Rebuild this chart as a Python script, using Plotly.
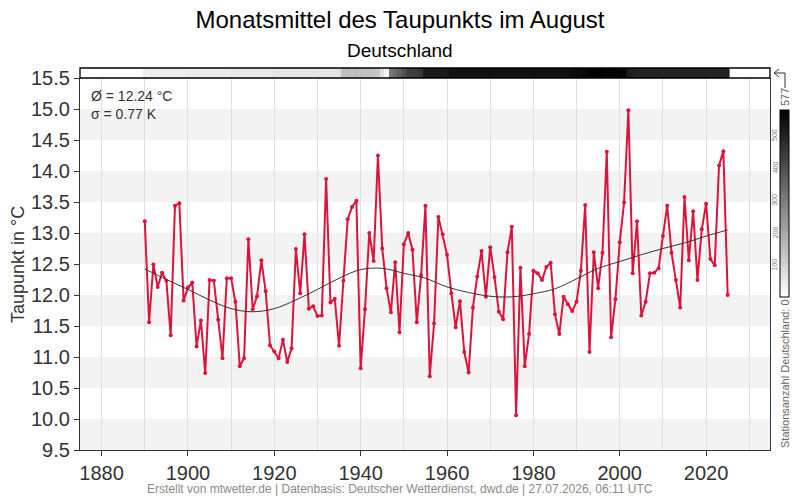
import plotly.graph_objects as go

years = list(range(1890, 2026))
dewpoint = [
    13.19, 11.56, 12.49, 12.13, 12.36, 12.23, 11.35, 13.44, 13.48, 11.91,
    12.12, 12.20, 11.17, 11.59, 10.74, 12.24, 12.23, 11.60, 10.98, 12.27,
    12.27, 11.89, 10.85, 10.98, 12.90, 11.77, 11.98, 12.56, 12.06, 11.19,
    11.09, 10.98, 11.28, 10.92, 11.14, 12.74, 12.03, 12.98, 11.78, 11.82,
    11.66, 11.67, 13.87, 11.88, 11.94, 11.18, 12.23, 13.22, 13.42, 13.52,
    10.82, 11.77, 13.00, 12.55, 14.25, 12.75, 12.11, 11.72, 12.53, 11.40,
    12.82, 13.00, 12.73, 11.56, 12.32, 13.44, 10.69, 11.54, 13.26, 12.98,
    12.65, 12.03, 11.48, 11.90, 11.08, 10.75, 11.80, 12.30, 12.71, 11.97,
    12.77, 12.29, 11.73, 11.61, 12.69, 13.10, 10.06, 12.44, 10.85, 11.37,
    12.39, 12.35, 12.24, 12.45, 12.52, 11.69, 11.37, 11.97, 11.85, 11.74,
    11.89, 12.39, 13.45, 11.08, 12.69, 12.11, 12.68, 14.31, 11.32, 11.93,
    12.85, 13.49, 14.98, 12.35, 13.19, 11.67, 11.89, 12.35, 12.36, 12.43,
    12.95, 13.44, 12.68, 12.24, 11.80, 13.58, 12.56, 13.35, 12.24, 13.06,
    13.47, 12.58, 12.48, 14.09, 14.32, 12.00,
]

trend_years = list(range(1890, 2026, 5))
trend_values = [
    12.42, 12.25, 12.09, 11.92, 11.78, 11.73, 11.78, 11.92, 12.09, 12.27,
    12.41, 12.43, 12.35, 12.27, 12.13, 12.04, 11.98, 11.97, 12.02, 12.10,
    12.26, 12.43, 12.54, 12.65, 12.75, 12.84, 12.95, 13.05,
]

station_counts = (
    [40] * 10 + [45] * 10 + [50] * 10 + [58] * 16
    + [140, 150, 145, 150, 140, 135, 140, 130, 125]
    + [70, 25]
    + [300, 330, 360, 390, 430, 435, 440, 450]
    + [515] * 6
    + [540] * 28
    + [555] * 4 + [570, 572, 577, 574, 570, 568, 566, 565, 565]
    + [520, 505] + [495] * 22
)

station_max = 577
colorbar_ticks = [100, 200, 300, 400, 500]
y_ticks = [9.5 + 0.5 * i for i in range(13)]
x_ticks = [1880, 1900, 1920, 1940, 1960, 1980, 2000, 2020]
mean_text = "Ø = 12.24 °C<br>σ = 0.77 K"
title_text = "Monatsmittel des Taupunkts im August"
subtitle_text = "Deutschland"
footer_text = "Erstellt von mtwetter.de | Datenbasis: Deutscher Wetterdienst, dwd.de | 27.07.2026, 06:11 UTC"

NARROW = "Liberation Sans Narrow, Arial Narrow, Liberation Sans, sans-serif"
SANS = "Liberation Sans, Arial, sans-serif"

W, H = 800, 500
L, R, T, B = 80, 770, 68, 450
band_bottom = 78
cb_top, cb_bottom = 110, 297

def px_x(px):
    return (px - L) / (R - L)

def px_y(py):
    return (B - py) / (B - T)

main_top = px_y(band_bottom)

fig = go.Figure()

fig.add_trace(go.Heatmap(
    x=years, y=[0], z=[station_counts],
    xaxis="x2", yaxis="y2",
    colorscale=[[0, "white"], [1, "black"]],
    zmin=0, zmax=station_max,
    hoverinfo="skip",
    colorbar=dict(
        x=px_x(780), xanchor="left", xref="paper",
        y=px_y(cb_bottom), yanchor="bottom", yref="paper",
        len=(cb_bottom - cb_top) / (B - T), lenmode="fraction",
        thickness=9, thicknessmode="pixels",
        outlinecolor="black", outlinewidth=1,
        showticklabels=False, ticks="",
        xpad=0, ypad=0,
    ),
))

fig.add_trace(go.Scatter(
    x=years, y=dewpoint, mode="lines+markers",
    line=dict(color="#dc143c", width=2),
    marker=dict(color="#dc143c", size=4),
    showlegend=False,
))

fig.add_trace(go.Scatter(
    x=trend_years, y=trend_values, mode="lines",
    line=dict(color="#333333", width=1, shape="spline", smoothing=1.0),
    showlegend=False,
))

shapes = []
for lo in [9.5, 10.5, 11.5, 12.5, 13.5, 14.5]:
    shapes.append(dict(type="rect", xref="x domain", yref="y",
                       x0=0, x1=1, y0=lo, y1=lo + 0.5,
                       fillcolor="#f3f3f3", line=dict(width=0), layer="below"))
shapes.append(dict(type="rect", xref="paper", yref="paper",
                   x0=0, x1=1, y0=main_top, y1=1,
                   line=dict(color="black", width=1.3), fillcolor="rgba(0,0,0,0)"))
pts = [(785, 88), (785, 73), (775, 73)]
path = "M " + " L ".join(f"{px_x(a):.5f},{px_y(b):.5f}" for a, b in pts)
shapes.append(dict(type="path", xref="paper", yref="paper", path=path,
                   line=dict(color="#333", width=1)))
head = [(779, 69), (774, 73), (779, 77)]
path2 = "M " + " L ".join(f"{px_x(a):.5f},{px_y(b):.5f}" for a, b in head)
shapes.append(dict(type="path", xref="paper", yref="paper", path=path2,
                   line=dict(color="#333", width=1)))

annotations = [
    dict(text=subtitle_text, xref="paper", yref="paper",
         x=px_x(400), y=px_y(50), xanchor="center", yanchor="middle",
         showarrow=False, font=dict(size=19, color="black", family=SANS)),
    dict(text=mean_text, xref="paper", yref="paper",
         x=px_x(89), y=px_y(86), xanchor="left", yanchor="top", align="left",
         showarrow=False, font=dict(size=14, color="#333", family=SANS)),
    dict(text=footer_text, xref="paper", yref="paper",
         x=px_x(400), y=px_y(489), xanchor="center", yanchor="middle",
         showarrow=False, font=dict(size=12, color="#8a8a8a", family=NARROW)),
    dict(text=str(station_max), xref="paper", yref="paper", textangle=-90,
         x=px_x(785), y=px_y(97), xanchor="center", yanchor="middle",
         showarrow=False, font=dict(size=11, color="#666", family=SANS)),
    dict(text="Stationsanzahl Deutschland: 0", xref="paper", yref="paper", textangle=-90,
         x=px_x(785), y=px_y(374), xanchor="center", yanchor="middle",
         showarrow=False, font=dict(size=11, color="#666", family=SANS)),
    dict(text="Taupunkt in °C", xref="paper", yref="paper", textangle=-90,
         x=px_x(18), y=px_y(265), xanchor="center", yanchor="middle",
         showarrow=False, font=dict(size=18, color="#333", family=SANS)),
]
for v in colorbar_ticks:
    py = cb_bottom - v / station_max * (cb_bottom - cb_top)
    annotations.append(dict(
        text=str(v), xref="paper", yref="paper", textangle=-90,
        x=px_x(775), y=px_y(py), xanchor="center", yanchor="middle",
        showarrow=False, font=dict(size=7, color="#777", family=SANS)))

fig.update_layout(
    width=W, height=H,
    margin=dict(l=L, r=W - R, t=T, b=H - B, pad=0, autoexpand=False),
    paper_bgcolor="white", plot_bgcolor="white",
    title=dict(text=title_text, x=0.5, xref="container", xanchor="center",
               y=1 - 20 / H, yref="container", yanchor="middle",
               font=dict(size=24, color="black", family=SANS)),
    showlegend=False,
    xaxis=dict(
        domain=[0, 1], anchor="y", range=[1875, 2034.8],
        tickvals=x_ticks, ticks="outside", ticklen=5, tickcolor="#333",
        showgrid=True, gridcolor="#e0e0e0", gridwidth=1,
        minor=dict(dtick=10, tick0=1880, showgrid=True, gridcolor="#e0e0e0", ticks=""),
        showline=True, linecolor="#333", linewidth=1.3,
        tickfont=dict(size=20, color="#333", family=NARROW),
        zeroline=False,
    ),
    yaxis=dict(
        domain=[0, main_top], anchor="x", range=[9.5, 15.5],
        tickvals=y_ticks, tickformat=".1f", ticks="outside", ticklen=5, tickcolor="#333",
        showgrid=False, zeroline=False,
        showline=True, linecolor="#333", linewidth=1.3, mirror=True,
        tickfont=dict(size=20, color="#333", family=NARROW),
    ),
    xaxis2=dict(domain=[0, 1], anchor="y2", matches="x", showgrid=False,
                showticklabels=False, ticks="", zeroline=False, showline=False),
    yaxis2=dict(domain=[main_top, 1], anchor="x2", showgrid=False,
                showticklabels=False, ticks="", zeroline=False, showline=False,
                range=[-0.5, 0.5]),
    shapes=shapes,
    annotations=annotations,
)

fig.write_html("out.html")
